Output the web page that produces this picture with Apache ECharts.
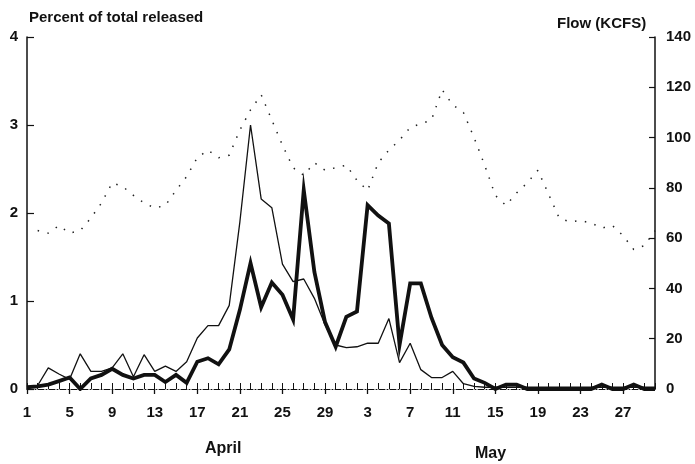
<!DOCTYPE html>
<html>
<head>
<meta charset="utf-8">
<script src="https://cdn.jsdelivr.net/npm/echarts@6/dist/echarts.min.js"></script>
<style>
  html, body { margin: 0; padding: 0; background: #fff; }
  #chart { width: 695px; height: 464px; }
</style>
</head>
<body>
<div id="chart"></div>
<script>
// day numbers for April then May
const aprilDays = [1,2,3,4,5,6,7,8,9,10,11,12,13,14,15,16,17,18,19,20,21,22,23,24,25,26,27,28,29,30];
const mayDays = [1,2,3,4,5,6,7,8,9,10,11,12,13,14,15,16,17,18,19,20,21,22,23,24,25,26,27,28,29,30];
const monthNames = ['April', 'May'];

// percent of total released (left axis)
const thickPct = [
  0.02,0.03,0.05,0.09,0.13,0.00,0.12,0.16,0.23,0.16,0.12,0.16,0.16,0.08,0.16,
  0.07,0.31,0.35,0.28,0.45,0.90,1.43,0.93,1.21,1.07,0.79,2.26,1.33,0.76,0.48,
  0.82,0.88,2.09,1.97,1.88,0.50,1.20,1.20,0.81,0.50,0.36,0.30,0.12,0.07,0.00,
  0.05,0.05,0.00,0.00,0.00,0.00,0.00,0.00,0.00,0.05,0.00,0.00,0.05,0.00,0.00
];
const thinPct = [
  0.02,0.04,0.24,0.17,0.11,0.40,0.20,0.20,0.24,0.40,0.14,0.39,0.20,0.26,0.20,
  0.31,0.58,0.72,0.72,0.95,1.90,3.00,2.16,2.06,1.42,1.22,1.25,1.03,0.73,0.50,
  0.47,0.48,0.52,0.52,0.80,0.30,0.52,0.22,0.13,0.13,0.20,0.06,0.03,0.02,0.02,
  0.02,0.02,0.02,0.02,0.02,0.02,0.02,0.02,0.02,0.02,0.02,0.02,0.02,0.02,0.02
];
// flow in KCFS (right axis)
const flowKcfs = [
  null,63,62,65,62,63,68,74,82,80.5,77,74,72,73,79,
  84.5,92,95,92,93,103,111,117,107,97,88,85,90,87,88,
  89,83,79,90,95,99,104,105.5,107,119,113,110,100,89,77,
  73,78,82,87,77.5,68,66.5,67,66,64,65,61,55.5,57,63
];

const categories = aprilDays.map(d => 'Apr-' + d).concat(mayDays.map(d => 'May-' + d));

const font = 'Arial, "Liberation Sans", sans-serif';
const ink = '#111';

const chart = echarts.init(document.getElementById('chart'));

const option = {
  animation: false,
  backgroundColor: '#fff',
  grid: { left: 27, right: 40, top: 37, bottom: 75 },
  xAxis: [{
    type: 'category',
    data: categories,
    boundaryGap: false,
    axisLine: { lineStyle: { color: ink, width: 1, type: [6, 2, 1, 2] } },
    axisTick: { inside: true, length: 6, interval: 0, lineStyle: { color: ink, width: 1 } },
    axisLabel: {
      interval: 3,
      margin: 16,
      color: ink,
      fontFamily: font,
      fontWeight: 'bold',
      fontSize: 15,
      formatter: v => v.split('-')[1]
    },
    splitLine: { show: false }
  }, {
    // longer ticks under the labelled days
    type: 'category',
    data: categories,
    boundaryGap: false,
    position: 'bottom',
    axisLine: { show: false },
    axisTick: { inside: false, length: 5, interval: 3, lineStyle: { color: ink, width: 1.3 } },
    axisLabel: { show: false },
    splitLine: { show: false }
  }],
  yAxis: [{
    type: 'value',
    min: 0, max: 4, interval: 1,
    axisLine: { show: true, lineStyle: { color: ink, width: 1.5 } },
    axisTick: { show: true, inside: true, length: 7, lineStyle: { color: ink, width: 1.2 } },
    axisLabel: { margin: 9, color: ink, fontFamily: font, fontWeight: 'bold', fontSize: 15 },
    splitLine: { show: false }
  }, {
    type: 'value',
    min: 0, max: 140, interval: 20,
    position: 'right',
    axisLine: { show: true, lineStyle: { color: ink, width: 1.5 } },
    axisTick: { show: true, inside: true, length: 6, lineStyle: { color: ink, width: 1.2 } },
    axisLabel: { margin: 11, color: ink, fontFamily: font, fontWeight: 'bold', fontSize: 15 },
    splitLine: { show: false }
  }],
  series: [{
    name: 'flow',
    type: 'line',
    yAxisIndex: 1,
    data: flowKcfs,
    symbol: 'none',
    lineStyle: { color: '#222', width: 1.5, type: [1.5, 8.5] },
    z: 2
  }, {
    name: 'thin',
    type: 'line',
    data: thinPct,
    symbol: 'none',
    lineStyle: { color: ink, width: 1.3 },
    z: 3
  }, {
    name: 'thick',
    type: 'line',
    data: thickPct,
    symbol: 'none',
    lineStyle: { color: ink, width: 3.8, join: 'miter' },
    z: 4
  }],
  graphic: [{
    type: 'text', left: 29, top: 10,
    style: { text: 'Percent of total released', fill: ink, font: 'bold 15px ' + font }
  }, {
    type: 'text', left: 557, top: 16,
    style: { text: 'Flow (KCFS)', fill: ink, font: 'bold 15px ' + font }
  }, {
    type: 'text', left: 205, top: 441,
    style: { text: monthNames[0], fill: ink, font: 'bold 16px ' + font }
  }, {
    type: 'text', left: 475, top: 446,
    style: { text: monthNames[1], fill: ink, font: 'bold 16px ' + font }
  }]
};

chart.setOption(option);
</script>
</body>
</html>
